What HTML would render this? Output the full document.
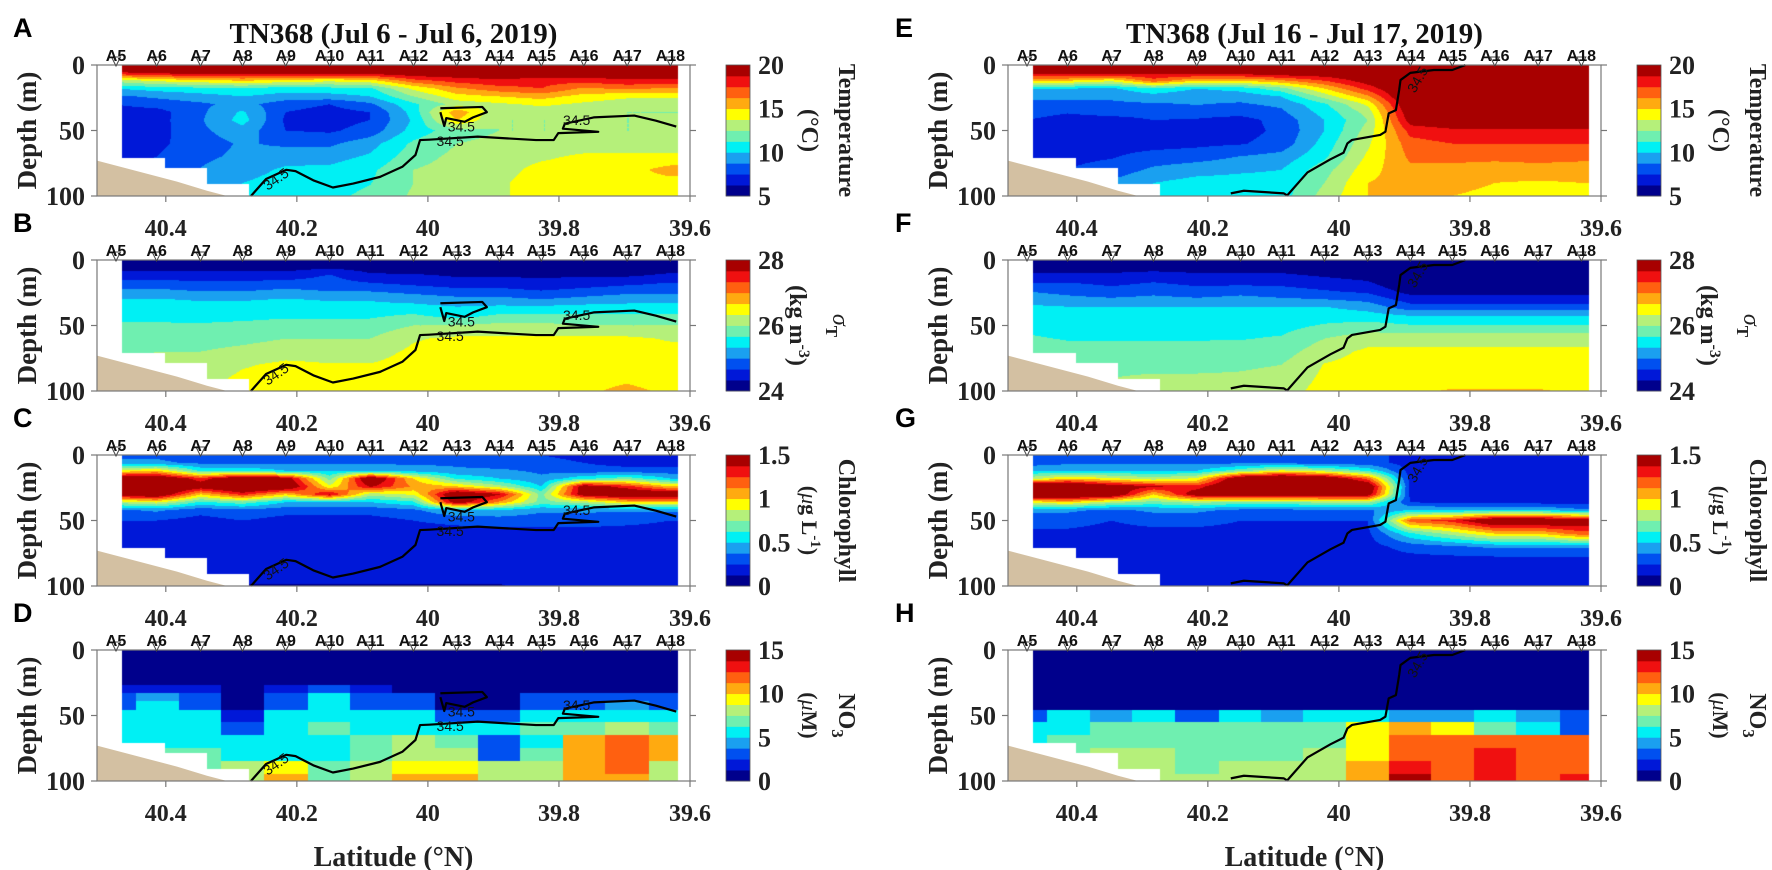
<!DOCTYPE html>
<html><head><meta charset="utf-8">
<style>
body{margin:0;background:#fff;}
#fig{position:relative;width:1772px;height:870px;overflow:hidden;background:#fff;font-family:"Liberation Serif",serif;}
canvas{position:absolute;}
svg{position:absolute;left:0;top:0;}
</style></head>
<body>
<div id="fig">
<svg id="ov" width="1772" height="870"></svg>
</div>
<script>
// ---------- data ----------
const stationNames = ['A5','A6','A7','A8','A9','A10','A11','A12','A13','A14','A15','A16','A17','A18'];
const stationLats = [40.476,40.414,40.347,40.283,40.217,40.150,40.088,40.022,39.956,39.891,39.827,39.762,39.696,39.630];
const depths = [0,6,12,18,24,30,36,42,50,60,70,80,90,100];
const xTickValues = [40.4,40.2,40,39.8,39.6];
const xTickLabels = ['40.4','40.2','40','39.8','39.6'];
const yTickValues = [0,50,100];
const yTickLabels = ['0','50','100'];

const tempJul6 = [
[21,21,21,21,21,21,21,21,21,21,21,21,21,21],
[18.5,19,19.5,19.5,19.5,19.5,19.5,20,20,20,20,20,20,20],
[13,14,14.5,15,14.5,14,14.5,17,18,18.5,18,18,18.5,18.5],
[10,10.5,10.8,11,10.5,10.8,11,14,16,17,17.5,16,16.5,16],
[8.5,9,9.5,10,9.5,9.5,10,12.5,14.5,15,15.5,14.5,14,14],
[7.5,8,8.5,9.2,8,7.5,8.5,11,13,13.5,14,13.5,13,13],
[7,7,8.5,10.2,7.5,7,7.5,10.5,16,12.5,13,13,12.5,12.5],
[7,7,8.6,10.5,7.3,7,7.5,10.2,15,12.5,12.5,12.5,12.5,12.5],
[7,7,8.5,9.5,7.5,7.3,8,10.5,12,12.5,12.5,12.5,12.5,12.5],
[7,7.2,8.2,8.9,8.5,8.5,9.5,11.5,12.5,12.8,13,13,13,13],
[7.2,7.5,8.5,9,9.5,9.5,10.2,12,12.8,13,13.5,14,14,14],
[7.5,7.8,8.8,9.5,10.2,10.3,11,12.5,13,13.2,14.2,14.5,14.5,15.5],
[8,8.5,9,10,10.5,10.8,11.2,12.5,13,13.5,14.5,14.5,14.5,14.5],
[8,8.5,9.5,10,10.6,11,11.5,12.7,13,13.5,14.5,14.5,14.3,14.3]];
const sigmaJul6 = [
[23.9,23.9,23.9,23.9,23.9,23.9,23.9,23.9,23.9,23.9,23.9,23.9,23.9,23.9],
[24.2,24.2,24.2,24.2,24.2,24.3,24.2,24.1,24.1,24.1,24.1,24.1,24.1,24.2],
[24.5,24.5,24.5,24.5,24.5,24.7,24.4,24.4,24.3,24.3,24.3,24.3,24.3,24.4],
[24.8,24.8,24.75,24.75,24.8,24.8,24.7,24.6,24.5,24.5,24.4,24.5,24.6,24.7],
[25.1,25.1,25.0,25.0,25.1,25.0,25.0,24.9,24.8,24.8,24.7,24.8,24.9,24.9],
[25.35,25.35,25.3,25.3,25.35,25.3,25.3,25.2,25.1,25.1,25.0,25.1,25.2,25.2],
[25.5,25.5,25.45,25.45,25.5,25.45,25.45,25.45,25.35,25.4,25.4,25.45,25.45,25.45],
[25.6,25.6,25.55,25.55,25.6,25.6,25.6,25.7,25.5,25.7,25.7,25.7,25.7,25.7],
[25.7,25.7,25.7,25.75,25.8,25.8,25.8,26.0,26.0,26.1,26.1,26.0,26.0,26.0],
[25.8,25.8,25.85,25.9,26.0,26.0,26.0,26.3,26.4,26.4,26.4,26.4,26.4,26.3],
[25.9,26.0,26.0,26.1,26.2,26.2,26.2,26.4,26.45,26.45,26.45,26.45,26.45,26.45],
[26.0,26.1,26.1,26.3,26.4,26.35,26.35,26.45,26.5,26.5,26.5,26.5,26.5,26.5],
[26.1,26.2,26.2,26.4,26.45,26.45,26.45,26.5,26.5,26.5,26.5,26.55,26.6,26.5],
[26.2,26.3,26.3,26.45,26.5,26.5,26.5,26.5,26.5,26.5,26.5,26.6,26.75,26.6]];
const chlJul6 = [
[0.35,0.35,0.3,0.3,0.3,0.3,0.3,0.3,0.3,0.3,0.25,0.2,0.2,0.2],
[0.4,0.4,0.35,0.35,0.35,0.35,0.35,0.35,0.35,0.3,0.3,0.25,0.2,0.2],
[0.9,1.0,0.6,0.6,0.5,0.5,0.5,0.45,0.4,0.4,0.35,0.3,0.3,0.3],
[1.6,1.6,1.3,1.6,1.5,0.7,1.6,1.0,0.6,0.5,0.4,0.6,0.7,0.5],
[1.7,1.7,1.5,1.7,1.6,0.9,1.4,1.1,1.0,0.8,0.5,1.5,1.3,1.0],
[1.5,1.6,1.0,1.3,1.0,1.4,0.8,0.9,1.6,1.4,0.7,1.5,1.6,1.6],
[0.8,0.9,0.6,0.7,0.5,0.5,0.5,0.6,1.5,1.1,0.7,0.8,1.0,1.0],
[0.35,0.4,0.3,0.35,0.3,0.3,0.3,0.35,0.5,0.5,0.4,0.4,0.4,0.4],
[0.25,0.25,0.2,0.25,0.2,0.2,0.2,0.25,0.28,0.3,0.3,0.3,0.28,0.25],
[0.2,0.2,0.2,0.2,0.2,0.2,0.2,0.2,0.2,0.2,0.2,0.2,0.2,0.2],
[0.2,0.2,0.2,0.2,0.2,0.2,0.2,0.2,0.2,0.2,0.2,0.2,0.2,0.2],
[0.2,0.2,0.2,0.2,0.2,0.2,0.2,0.2,0.2,0.2,0.2,0.2,0.2,0.2],
[0.15,0.15,0.15,0.15,0.15,0.15,0.15,0.15,0.15,0.15,0.18,0.18,0.18,0.18],
[0.12,0.12,0.12,0.12,0.12,0.12,0.12,0.12,0.12,0.12,0.15,0.15,0.15,0.15]];
const no3Jul6 = [
[0.3,0.3,0.3,0.3,0.3,0.3,0.3,0.3,0.3,0.3,0.3,0.3,0.3,0.3],
[0.3,0.3,0.3,0.3,0.3,0.3,0.3,0.3,0.3,0.3,0.3,0.3,0.3,0.3],
[0.3,0.3,0.3,0.3,0.3,0.3,0.3,0.3,0.3,0.3,0.3,0.3,0.3,0.3],
[0.4,0.4,0.4,0.4,0.4,0.4,0.4,0.4,0.4,0.4,0.4,0.4,0.4,0.4],
[0.6,0.6,0.5,0.6,0.6,0.5,0.6,0.5,0.4,0.4,0.4,0.4,0.4,0.4],
[2,2,1.5,1,2,2.5,2,1,0.5,0.5,0.5,0.5,0.5,0.5],
[3,4,3,1,3,5,3,3,1,1,3,3,3,3],
[3,5,3,1,3,5,3,3,1,1,3,3,4,3],
[5,5,5,2,5,5,5,5,3,3,5,6,6,5],
[5.5,6,5,3,5,6.5,6,5.5,5.5,5.5,6.5,6.5,8,7],
[6,6,6,5.5,6,5.5,6.5,8,7,3,6,10,11.5,10],
[6.5,7,6.5,6,6,5.5,7,8,7.5,2.5,7,10,11.5,10],
[6.5,7,7,8,9.5,6.5,8,9.5,9.5,8,8.5,11,11.5,8],
[6.5,7,7,8,10,6.5,8,10,10,8,8.5,10,10,8]];
const tempJul16 = [
[21,21,21,21,21,21,21,21,21,21,21,21,21,21],
[19.5,19.5,19.5,19,19.5,19.5,20,20,20.5,21,21,21,21,21],
[15,15,14,17,15,15,16,17.5,19.5,21,21,21,21,21],
[10,10,9.8,11,10,10.5,12,15,18,21,21,21,21,21],
[9,9,9,9.5,9,9.2,10,13,16,21,21,21,21,21],
[8.5,8.5,8.5,8.6,8.8,8.6,9,11,14,20.5,21,21,21,21],
[8,7.6,8,8,8,8,8.5,10.5,13,20,21,21,21,21],
[7.5,7,7,7.5,7.4,7,8,10,12.5,19.5,20,20,20,20],
[7,7,6.9,7.3,7,7,7.8,10,13,18,18.5,18.5,18.5,18.5],
[7,7,7,7,7.2,7.4,8,10.5,13.5,17,17.5,17.5,17.5,17.5],
[7.2,7.2,7.4,8,8.2,8.8,9.2,11,14,16.5,16.5,16.5,16.5,16.5],
[7.5,7.5,8,9,9.5,9.8,10,12,14.5,16,16,15.8,16,15.8],
[8,8,9,10,10.5,10.5,10.5,12.5,15,15.5,15.5,15,14.8,15],
[8,8,9,10.5,10.8,10.6,10.7,13,15,15.2,15,14.6,14.6,14.6]];
const sigmaJul16 = [
[23.9,23.9,23.9,23.9,23.9,23.9,23.9,23.9,23.9,23.9,23.9,23.9,23.9,23.9],
[24.2,24.2,24.2,24.2,24.2,24.2,24.2,24.1,24.0,23.9,23.9,23.9,23.9,23.9],
[24.4,24.4,24.4,24.5,24.4,24.4,24.4,24.3,24.2,23.9,23.9,23.9,23.9,23.9],
[24.7,24.7,24.6,24.7,24.6,24.6,24.6,24.5,24.4,24.0,24.0,24.0,24.0,24.0],
[25.0,24.9,24.8,24.9,24.8,24.9,24.8,24.7,24.6,24.2,24.2,24.2,24.2,24.2],
[25.2,25.1,25.05,25.1,25.05,25.1,25.05,25.0,24.9,24.5,24.5,24.5,24.5,24.5],
[25.4,25.35,25.35,25.35,25.35,25.35,25.35,25.35,25.2,24.8,24.8,24.8,24.8,24.8],
[25.5,25.45,25.45,25.5,25.5,25.5,25.5,25.5,25.45,25.3,25.3,25.3,25.3,25.3],
[25.6,25.55,25.55,25.55,25.55,25.55,25.55,25.7,25.8,25.7,25.7,25.7,25.7,25.7],
[25.7,25.65,25.65,25.65,25.65,25.65,25.7,26.0,26.2,26.2,26.2,26.2,26.2,26.2],
[25.8,25.75,25.75,25.75,25.75,25.8,25.85,26.2,26.4,26.4,26.4,26.4,26.4,26.4],
[25.9,25.85,25.9,25.9,25.9,25.95,26.0,26.35,26.45,26.45,26.45,26.45,26.45,26.45],
[26.0,25.95,26.0,26.05,26.05,26.05,26.1,26.4,26.5,26.5,26.5,26.5,26.5,26.5],
[26.0,26.0,26.05,26.1,26.1,26.1,26.2,26.45,26.6,26.6,26.7,26.7,26.7,26.6]];
const chlJul16 = [
[0.3,0.3,0.3,0.3,0.3,0.3,0.3,0.3,0.3,0.2,0.2,0.2,0.2,0.2],
[0.3,0.35,0.35,0.35,0.35,0.35,0.35,0.3,0.3,0.2,0.2,0.2,0.2,0.2],
[0.5,0.5,0.5,0.5,0.5,0.7,0.9,0.8,0.6,0.2,0.2,0.2,0.2,0.2],
[0.8,1.0,0.9,0.8,0.9,1.6,1.7,1.6,1.2,0.2,0.2,0.2,0.2,0.2],
[1.7,1.7,1.5,1.4,1.3,1.7,1.7,1.7,1.6,0.22,0.2,0.2,0.2,0.2],
[1.7,1.7,1.6,1.0,1.5,1.6,1.6,1.5,1.5,0.22,0.2,0.2,0.2,0.2],
[0.9,1.0,0.8,0.7,0.8,0.7,0.7,0.8,0.8,0.25,0.2,0.2,0.2,0.2],
[0.4,0.4,0.35,0.4,0.4,0.35,0.35,0.35,0.35,0.5,0.5,0.5,0.5,0.4],
[0.3,0.3,0.25,0.3,0.3,0.25,0.25,0.25,0.25,1.2,1.3,1.6,1.6,1.5],
[0.22,0.22,0.2,0.2,0.2,0.2,0.2,0.2,0.22,0.6,0.8,1.0,1.0,1.2],
[0.2,0.2,0.2,0.2,0.2,0.2,0.2,0.2,0.2,0.3,0.35,0.4,0.4,0.4],
[0.2,0.2,0.2,0.2,0.2,0.2,0.2,0.2,0.2,0.2,0.2,0.2,0.2,0.2],
[0.18,0.18,0.18,0.18,0.18,0.18,0.18,0.18,0.18,0.18,0.18,0.18,0.18,0.18],
[0.15,0.15,0.15,0.15,0.15,0.15,0.15,0.15,0.15,0.15,0.15,0.15,0.15,0.15]];
const no3Jul16 = [
[0.3,0.3,0.3,0.3,0.3,0.3,0.3,0.3,0.3,0.3,0.3,0.3,0.3,0.3],
[0.3,0.3,0.3,0.3,0.3,0.3,0.3,0.3,0.3,0.3,0.3,0.3,0.3,0.3],
[0.3,0.3,0.3,0.3,0.3,0.3,0.3,0.3,0.3,0.3,0.3,0.3,0.3,0.3],
[0.3,0.3,0.3,0.3,0.3,0.3,0.3,0.3,0.3,0.3,0.3,0.3,0.3,0.3],
[0.3,0.3,0.3,0.3,0.3,0.3,0.3,0.3,0.3,0.3,0.3,0.3,0.3,0.3],
[0.3,0.3,0.3,0.3,0.3,0.3,0.3,0.3,0.3,0.3,0.3,0.3,0.3,0.3],
[0.3,0.3,0.3,0.3,0.3,0.3,0.3,0.3,0.3,0.3,0.3,0.3,0.3,0.3],
[0.5,0.5,0.5,0.5,0.5,0.5,0.5,0.5,0.5,0.3,0.3,0.3,0.3,0.3],
[3,5,4,5,3,5,4,5,5,4,4,5,4,2.5],
[5.5,6,6.5,7,6.5,6.5,6.5,7,9,10.5,9.5,7,5,3],
[6,6.5,7,7,6.5,7,7,7,9,11.8,11.8,12.2,11.8,11.8],
[6.5,7,8,8,7,7,7,8,9.5,11.8,11.8,12.6,11.8,12.2],
[6.5,7,7.5,7.5,7,7.5,7.5,8,10,12.8,12,12.6,11.8,12.2],
[6.5,7,7,7.5,7.5,7.5,8,8.5,10,13.8,12.2,12.6,11.8,12.6]];

const contourLeftLat = [40.270,40.247,40.216,40.202,40.175,40.145,40.114,40.073,40.039,40.019,40.012,39.998,39.924,39.835,39.808,39.801,39.740,39.794,39.791,39.747,39.685,39.652,39.621];
const contourLeftDepth = [100,87,80,81,88,93.5,90.5,85.4,77.7,68.7,57.3,57,54.7,57.3,57.3,52,51,48.6,44.8,40,38.6,42.5,47];
const loopLeftLat = [39.981,39.917,39.910,39.931,39.944,39.972,39.975,39.981];
const loopLeftDepth = [33,32,36,40,43.4,40.5,46.6,36];
const contourRightLat = [40.165,40.145,40.084,40.079,40.048,40.013,39.993,39.987,39.980,39.937,39.929,39.924,39.913,39.908,39.906,39.891,39.855,39.827,39.807];
const contourRightDepth = [98,96,98,99.6,82,72,67,59.8,57.2,53.4,50.9,36.9,34.4,19,11.5,6,3.8,3.8,0];

const levelColors = ['#00008c','#0018d8','#0050f0','#1aa0f0','#00f0f4','#6fefb0','#b5f07a','#ffff00','#ffaa10','#ff6010','#f01010','#a80000'];

// ---------- layout ----------
const LEFTS = [97,1008], TOPS = [65,260,455,650], W = 593, H = 131;
const LAT0 = 40.505, LATSPAN = 0.905;
const NS = 'http://www.w3.org/2000/svg';
const svg = document.getElementById('ov');
const fig = document.getElementById('fig');
function xOf(lat,L){return L + (LAT0-lat)/LATSPAN*W;}
function yOf(d,T){return T + d/100*H;}
function el(tag,attrs,parent){const e=document.createElementNS(NS,tag);for(const k in attrs)e.setAttribute(k,attrs[k]);(parent||svg).appendChild(e);return e;}
function bottomDepth(px){ if(px<68) return 71; if(px<110) return 79; if(px<152) return 91; return 100; }

function sample(field,lat,d,nearest){
  let i=0; while(i<stationLats.length-2 && lat<stationLats[i+1]) i++;
  let t=(stationLats[i]-lat)/(stationLats[i]-stationLats[i+1]); t=Math.max(0,Math.min(1,t));
  let j=0; while(j<depths.length-2 && d>depths[j+1]) j++;
  let u=(d-depths[j])/(depths[j+1]-depths[j]); u=Math.max(0,Math.min(1,u));
  if(nearest){ t=t<0.5?0:1; u=u<0.5?0:1; }
  const a=field[j][i],b=field[j][i+1],c=field[j+1][i],e=field[j+1][i+1];
  return (a*(1-t)+b*t)*(1-u)+(c*(1-t)+e*t)*u;
}
function hexToRgb(h){return [parseInt(h.substr(1,2),16),parseInt(h.substr(3,2),16),parseInt(h.substr(5,2),16)];}
const rgbLevels = levelColors.map(hexToRgb);

const panels = [
 {letter:'A',col:0,row:0,field:tempJul6,vmin:5,vmax:20,ticks:[5,10,15,20],tl:['5','10','15','20'],kind:'temp',nearest:false},
 {letter:'B',col:0,row:1,field:sigmaJul6,vmin:24,vmax:28,ticks:[24,26,28],tl:['24','26','28'],kind:'sigma',nearest:false},
 {letter:'C',col:0,row:2,field:chlJul6,vmin:0,vmax:1.5,ticks:[0,0.5,1,1.5],tl:['0','0.5','1','1.5'],kind:'chl',nearest:false},
 {letter:'D',col:0,row:3,field:no3Jul6,vmin:0,vmax:15,ticks:[0,5,10,15],tl:['0','5','10','15'],kind:'no3',nearest:true},
 {letter:'E',col:1,row:0,field:tempJul16,vmin:5,vmax:20,ticks:[5,10,15,20],tl:['5','10','15','20'],kind:'temp',nearest:false},
 {letter:'F',col:1,row:1,field:sigmaJul16,vmin:24,vmax:28,ticks:[24,26,28],tl:['24','26','28'],kind:'sigma',nearest:false},
 {letter:'G',col:1,row:2,field:chlJul16,vmin:0,vmax:1.5,ticks:[0,0.5,1,1.5],tl:['0','0.5','1','1.5'],kind:'chl',nearest:false},
 {letter:'H',col:1,row:3,field:no3Jul16,vmin:0,vmax:15,ticks:[0,5,10,15],tl:['0','5','10','15'],kind:'no3',nearest:true}
];

function text(x,y,str,attrs){const t=el('text',Object.assign({x:x,y:y},attrs||{}));t.textContent=str;return t;}

panels.forEach(p=>{
  const L=LEFTS[p.col], T=TOPS[p.row];
  const cv=document.createElement('canvas');
  cv.width=W; cv.height=H; cv.style.left=L+'px'; cv.style.top=T+'px';
  
  
  fig.insertBefore(cv,svg);
  const ctx=cv.getContext('2d'); const img=ctx.createImageData(W,H);
  for(let py=0;py<H;py++){
    const d=(py+0.5)/H*100;
    for(let px=0;px<W;px++){
      if(px<25||px>580) continue;
      if(d>bottomDepth(px)) continue;
      const lat=LAT0-(px+0.5)/W*LATSPAN;
      const v=sample(p.field,lat,d,p.nearest);
      let lv=Math.floor((v-p.vmin)/(p.vmax-p.vmin)*12); lv=Math.max(0,Math.min(11,lv));
      const c=rgbLevels[lv]; const k=(py*W+px)*4;
      img.data[k]=c[0];img.data[k+1]=c[1];img.data[k+2]=c[2];img.data[k+3]=255;
    }
  }
  ctx.putImageData(img,0,0);

  const g=el('g',{});
  
  
  const bp=[[0,73],[20,77],[50,83],[80,89],[110,96],[130,100],[0,100]].map(q=>(L+q[0])+','+yOf(q[1],T)).join(' ');
  const bath=el('polygon',{points:bp,fill:'#d3c0a2'},g);
  
  
  const isL=p.col===0;
  const lines=isL?[[contourLeftLat,contourLeftDepth],[loopLeftLat,loopLeftDepth]]:[[contourRightLat,contourRightDepth]];
  lines.forEach(ln=>{
    const pts=ln[0].map((la,i)=>xOf(la,L)+','+yOf(ln[1][i],T)).join(' ');
    const pl=el('polyline',{points:pts,fill:'none',stroke:'#000','stroke-width':2.2,'stroke-linejoin':'round'},g);
    
    
  });
  const labs=isL?[[39.949,47,0],[39.966,58,0],[39.773,42,0],[40.232,87,-35]]:[[39.880,11,-60]];
  labs.forEach(q=>{
    const t=text(xOf(q[0],L),yOf(q[1],T)+5,'34.5',{'font-family':'Liberation Sans, sans-serif','font-size':14,'text-anchor':'middle',fill:'#111',transform:'rotate('+q[2]+' '+xOf(q[0],L)+' '+yOf(q[1],T)+')'});
    
    
  });
  const box=el('rect',{x:L,y:T,width:W,height:H,fill:'none',stroke:'#777','stroke-width':1.2},g);
  
  
  xTickValues.forEach((v,i)=>{
    const x=xOf(v,L);
    el('line',{x1:x,y1:T+H,x2:x,y2:T+H+6,stroke:'#777','stroke-width':1.2},g);
    const t=text(x,T+H+40,xTickLabels[i],{'font-size':24,'font-weight':'bold','text-anchor':'middle',fill:'#222'});
    
    
  });
  yTickValues.forEach((v,i)=>{
    const y=yOf(v,T);
    el('line',{x1:L-6,y1:y,x2:L,y2:y,stroke:'#777','stroke-width':1.2},g);
    el('line',{x1:L+W,y1:y,x2:L+W+6,y2:y,stroke:'#777','stroke-width':1.2},g);
    const t=text(L-12,y+9,yTickLabels[i],{'font-size':26,'font-weight':'bold','text-anchor':'end',fill:'#222'});
    
    
  });
  const yl=text(L-70,T+H/2+9,'Depth (m)',{'font-size':27,'font-weight':'bold','text-anchor':'middle',fill:'#222',transform:'rotate(-90 '+(L-70)+' '+(T+H/2)+')'});
  
  
  stationNames.forEach((s,i)=>{
    const x=xOf(stationLats[i],L);
    const tri=el('polygon',{points:(x-4.5)+','+(T-8)+' '+(x+4.5)+','+(T-8)+' '+x+','+(T+1),fill:'#fff',stroke:'#444','stroke-width':1},g);
    
    
    const t=text(x,T-4,s,{'font-family':'Liberation Sans, sans-serif','font-size':16,'font-weight':'bold','text-anchor':'middle',fill:'#111'});
    
    
  });
  const lt=text(L-84,T-28,p.letter,{'font-family':'Liberation Sans, sans-serif','font-size':27,'font-weight':'bold',fill:'#000'});
  if(p.col===1){lt.setAttribute('x',L-113);}
  
  
  const cx=L+629, cw=24;
  for(let k=0;k<12;k++){
    const r=el('rect',{x:cx,y:T+H-(k+1)*H/12,width:cw,height:H/12+0.4,fill:levelColors[k]},g);
    
    
  }
  el('rect',{x:cx,y:T,width:cw,height:H,fill:'none',stroke:'#555','stroke-width':0.8},g);
  p.ticks.forEach((v,i)=>{
    const y=T+H-(v-p.vmin)/(p.vmax-p.vmin)*H;
    const t=text(cx+cw+8,y+9,p.tl[i],{'font-size':26,'font-weight':'bold',fill:'#222'});
    
    
  });
  const ix=L+713, ox=L+750, cy=T+H/2;
  let inner,outer;
  if(p.kind==='temp'){
    inner=text(ix,cy+8,'(°C)',{'font-size':24,'font-weight':'bold','text-anchor':'middle',fill:'#222',transform:'rotate(90 '+ix+' '+cy+')'});
    outer=text(ox,cy+8,'Temperature',{'font-size':24,'font-weight':'bold','text-anchor':'middle',fill:'#222',transform:'rotate(90 '+ox+' '+cy+')'});
  } else if(p.kind==='sigma'){
    inner=el('text',{x:ix-12,y:cy+8,'font-size':24,'font-weight':'bold','text-anchor':'middle',fill:'#222',transform:'rotate(90 '+(ix-12)+' '+cy+')'});
    inner.innerHTML='(kg m<tspan dy="-9" font-size="16">-3</tspan><tspan dy="9">)</tspan>';
    outer=el('text',{x:ox-6,y:cy+8,'font-size':24,'font-weight':'bold','text-anchor':'middle',fill:'#222',transform:'rotate(90 '+(ox-6)+' '+cy+')'});
    outer.innerHTML='<tspan font-style="italic" font-weight="normal">σ</tspan><tspan dy="7" font-size="17">T</tspan>';
  } else if(p.kind==='chl'){
    inner=el('text',{x:ix,y:cy+8,'font-size':22,'font-weight':'bold','text-anchor':'middle',fill:'#222',transform:'rotate(90 '+ix+' '+cy+')'});
    inner.innerHTML='(<tspan font-style="italic" font-weight="normal">μ</tspan>g L<tspan dy="-9" font-size="15">-1</tspan><tspan dy="9">)</tspan>';
    outer=text(ox,cy+8,'Chlorophyll',{'font-size':24,'font-weight':'bold','text-anchor':'middle',fill:'#222',transform:'rotate(90 '+ox+' '+cy+')'});
  } else {
    inner=el('text',{x:ix,y:cy+8,'font-size':22,'font-weight':'bold','text-anchor':'middle',fill:'#222',transform:'rotate(90 '+ix+' '+cy+')'});
    inner.innerHTML='(<tspan font-style="italic" font-weight="normal">μ</tspan>M)';
    outer=el('text',{x:ox,y:cy+8,'font-size':24,'font-weight':'bold','text-anchor':'middle',fill:'#222',transform:'rotate(90 '+ox+' '+cy+')'});
    outer.innerHTML='NO<tspan dy="7" font-size="17">3</tspan>';
  }
  
  
  
  
});

[['TN368 (Jul 6 - Jul 6, 2019)',LEFTS[0]],['TN368 (Jul 16 - Jul 17, 2019)',LEFTS[1]]].forEach((q,i)=>{
  const t=text(q[1]+W/2,43,q[0],{'font-size':29,'font-weight':'bold','text-anchor':'middle',fill:'#111'});
  
  
  const xl=text(q[1]+W/2,866,'Latitude (°N)',{'font-size':28,'font-weight':'bold','text-anchor':'middle',fill:'#222'});
  
  
});
</script>
</body></html>
